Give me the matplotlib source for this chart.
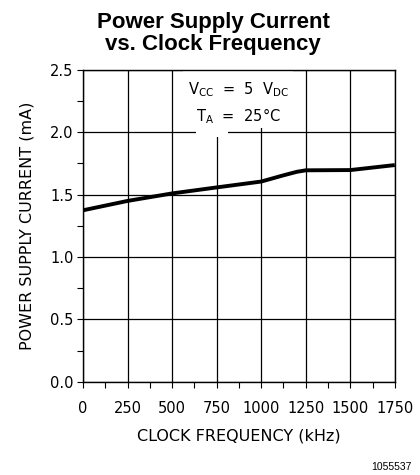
import matplotlib
matplotlib.use("Agg")
import matplotlib.pyplot as plt
from matplotlib.patches import Rectangle
from matplotlib.ticker import MultipleLocator

freq_khz = [0, 250, 500, 750, 1000, 1125, 1200, 1250, 1500, 1750]
current_ma = [1.375, 1.450, 1.510, 1.558, 1.605, 1.655, 1.683, 1.695, 1.697, 1.737]
x_ticks = [0, 250, 500, 750, 1000, 1250, 1500, 1750]
y_ticks = [0.0, 0.5, 1.0, 1.5, 2.0, 2.5]

fig = plt.figure(figsize=(4.2, 4.75), dpi=100)
ax = fig.add_axes([0.198, 0.196, 0.742, 0.657])

ax.plot(freq_khz, current_ma, color="black", lw=2.8, solid_capstyle="butt", zorder=4)

ax.set_xlim(0, 1750)
ax.set_ylim(0, 2.5)
ax.set_xticks(x_ticks)
ax.set_yticks(y_ticks)
ax.set_xticklabels([str(v) for v in x_ticks])
ax.set_yticklabels([f"{v:.1f}" for v in y_ticks])
ax.xaxis.set_minor_locator(MultipleLocator(125))
ax.yaxis.set_minor_locator(MultipleLocator(0.25))
ax.tick_params(which="both", direction="out", length=4, width=0.8, color="black")
ax.tick_params(axis="x", which="major", labelsize=10.5, pad=10)
ax.tick_params(axis="y", which="major", labelsize=10.5, pad=3)
ax.grid(True, which="major", color="black", lw=0.9, zorder=1)
ax.set_axisbelow(True)
for s in ax.spines.values():
    s.set_linewidth(1.0)

# white backing behind the condition note
ax.add_patch(Rectangle((560, 2.03), 620, 0.47, facecolor="white", edgecolor="none", zorder=2))
ax.add_patch(Rectangle((636, 1.96), 178, 0.12, facecolor="white", edgecolor="none", zorder=2))
ax.text(870, 2.34, r"V$_{\rm CC}$  =  5  V$_{\rm DC}$", ha="center", va="center", fontsize=10.5, zorder=3)
ax.text(870, 2.13, r"T$_{\rm A}$  =  25°C", ha="center", va="center", fontsize=10.5, zorder=3)

ax.set_xlabel("CLOCK FREQUENCY (kHz)", fontsize=11.5, labelpad=9)
ax.set_ylabel("POWER SUPPLY CURRENT (mA)", fontsize=11.5, labelpad=11)

fig.text(0.508, 0.93, "Power Supply Current\nvs. Clock Frequency", ha="center", va="center",
         fontsize=16, fontweight="bold", family="Liberation Sans", linespacing=1.05)
fig.text(0.98, 0.017, "1055537", ha="right", va="center", fontsize=7.5, family="Liberation Sans")

fig.savefig("out.png", dpi=100)
